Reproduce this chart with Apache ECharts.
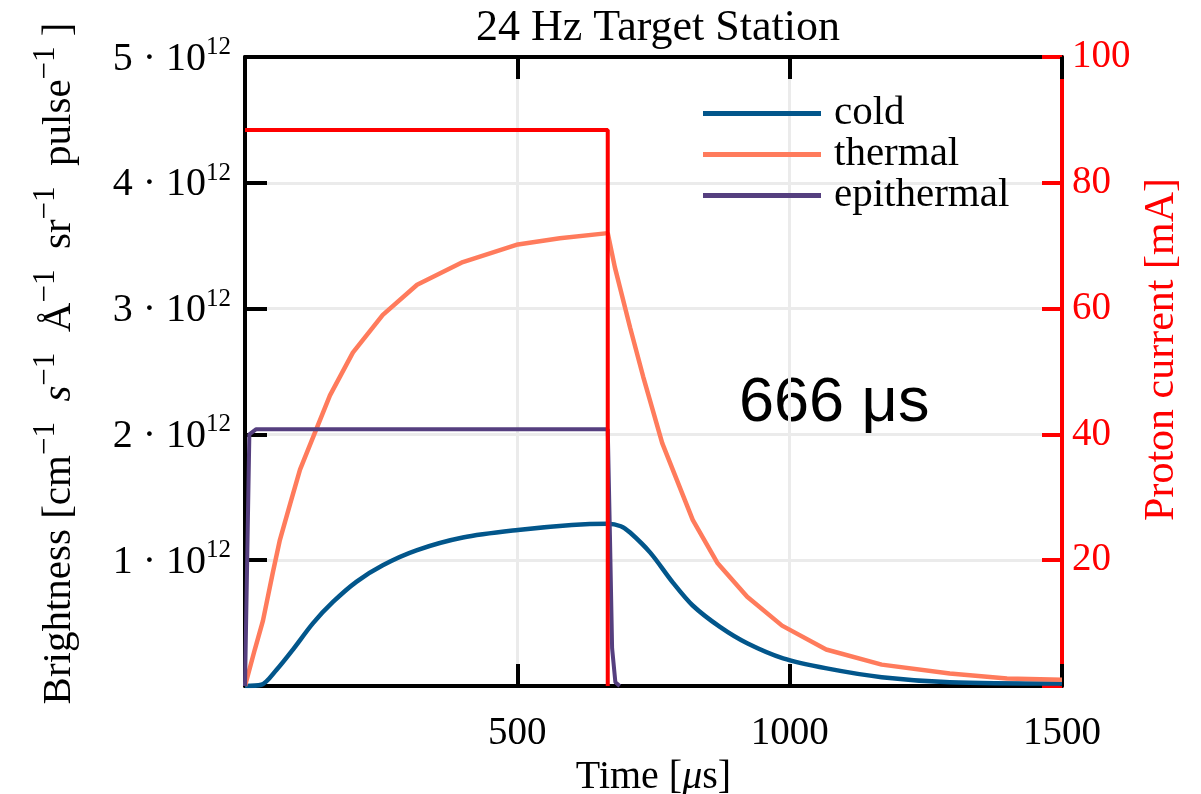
<!DOCTYPE html>
<html>
<head>
<meta charset="utf-8">
<script src="https://cdn.jsdelivr.net/npm/echarts@6/dist/echarts.min.js"></script>
<style>
  html, body { margin: 0; padding: 0; background: #fff; }
  #main { width: 1201px; height: 794px; }
</style>
</head>
<body>
<div id="main"></div>
<script>
// time in microseconds, brightness in units of 1e12
var coldTime  = [0, 30, 58, 88, 125, 162, 205, 253, 316, 400, 501, 600, 666, 690, 707, 744, 786, 822, 872, 922, 988, 1068, 1169, 1294, 1500]
var coldValue = [0, 0.01, 0.13, 0.29, 0.50, 0.67, 0.83, 0.96, 1.08, 1.18, 1.24, 1.28, 1.29, 1.27, 1.22, 1.06, 0.82, 0.64, 0.47, 0.34, 0.22, 0.14, 0.07, 0.03, 0.02]

var thermalTime  = [0, 18, 33, 51, 64, 83, 101, 128, 156, 198, 253, 316, 400, 501, 578, 666, 679, 707, 731, 766, 822, 867, 922, 986, 1067, 1169, 1294, 1399, 1500]
var thermalValue = [0, 0.29, 0.52, 0.90, 1.16, 1.45, 1.72, 2.01, 2.31, 2.65, 2.95, 3.19, 3.37, 3.51, 3.56, 3.60, 3.33, 2.85, 2.46, 1.93, 1.32, 0.98, 0.71, 0.48, 0.29, 0.17, 0.10, 0.06, 0.05]

var epiTime  = [0, 8, 20, 666, 670, 674, 680, 688]
var epiValue = [0, 2.0, 2.04, 2.04, 1.2, 0.3, 0.03, 0]

// proton current in mA
var protonTime  = [0, 666, 666]
var protonValue = [88.4, 88.4, 0]

var serif = '"Liberation Serif", "DejaVu Serif", serif'
var fs = 39

function pairs(xs, ys) {
	var out = []
	for (var i = 0; i < xs.length; i++) {
		out.push([xs[i], ys[i]])
	}
	return out
}

var myChart = echarts.init(document.getElementById('main'))

var tickStyle = { show: true, inside: true, length: 22, lineStyle: { color: '#000', width: 4 } }

myChart.setOption({
	animation: false,
	backgroundColor: '#fff',
	title: {
		text: '24 Hz Target Station',
		left: 653,
		textAlign: 'center',
		top: 1,
		textStyle: { fontFamily: serif, fontSize: 44, fontWeight: 'normal', color: '#000' }
	},
	legend: {
		data: ['cold', 'thermal', 'epithermal'],
		orient: 'vertical',
		left: 703,
		top: 93,
		icon: 'rect',
		itemWidth: 118,
		itemHeight: 5,
		itemGap: 0,
		padding: 0,
		textStyle: { fontFamily: serif, fontSize: 41, color: '#000', lineHeight: 38, padding: [0, 0, 0, 8] }
	},
	grid: { left: 245, right: 139, top: 57, bottom: 108, containLabel: false, outerBoundsMode: 'none' },
	xAxis: [{
		type: 'value',
		min: 0, max: 1500, interval: 500,
		name: 'Time [{i|μ}s]',
		nameLocation: 'middle',
		nameGap: 52,
		nameTextStyle: {
			fontFamily: serif, fontSize: 40, color: '#000',
			rich: { i: { fontFamily: serif, fontSize: 40, fontStyle: 'italic', color: '#000' } }
		},
		axisLine: { show: true, onZero: false, lineStyle: { color: '#000', width: 4 } },
		axisTick: tickStyle,
		axisLabel: {
			fontFamily: serif, fontSize: fs, color: '#000', margin: 28,
			formatter: function (v) { return v === 0 ? '' : v }
		},
		splitLine: { show: true, lineStyle: { color: '#ebebeb', width: 3 } }
	}, {
		type: 'value',
		position: 'top',
		min: 0, max: 1500, interval: 500,
		axisLine: { show: true, onZero: false, lineStyle: { color: '#000', width: 4 } },
		axisTick: tickStyle,
		axisLabel: { show: false },
		splitLine: { show: false }
	}],
	yAxis: [{
		type: 'value',
		min: 0, max: 5, interval: 1,
		name: '{t|Brightness [cm}{s|−1}{t|  }{i|s}{s|−1}{t|  Å}{s|−1}{t|  sr}{s|−1}{t|  pulse}{s|−1}{t| ]}',
		nameLocation: 'middle',
		nameRotate: 90,
		nameGap: 165,
		nameTextStyle: {
			padding: [0, 0, 0, 16],
			rich: {
				t: { fontFamily: serif, fontSize: 41, color: '#000', verticalAlign: 'bottom', lineHeight: 50 },
				i: { fontFamily: serif, fontSize: 41, fontStyle: 'italic', color: '#000', verticalAlign: 'bottom', lineHeight: 50 },
				s: { fontFamily: serif, fontSize: 31, color: '#000', verticalAlign: 'top', lineHeight: 50 }
			}
		},
		axisLine: { show: true, onZero: false, lineStyle: { color: '#000', width: 4 } },
		axisTick: tickStyle,
		axisLabel: {
			margin: 14,
			formatter: function (v) { return v === 0 ? '' : '{m|' + v + ' · 10}{s|12}' },
			rich: {
				m: { fontFamily: serif, fontSize: 40, color: '#000', verticalAlign: 'bottom', lineHeight: 44 },
				s: { fontFamily: serif, fontSize: 25, color: '#000', verticalAlign: 'top', lineHeight: 44 }
			}
		},
		splitLine: { show: true, lineStyle: { color: '#ebebeb', width: 3 } }
	}, {
		type: 'value',
		position: 'right',
		min: 0, max: 100, interval: 20,
		name: 'Proton current [mA]',
		nameLocation: 'middle',
		nameRotate: 90,
		nameGap: 75,
		nameTextStyle: { fontFamily: serif, fontSize: 42, color: '#ff0000', padding: [0, 0, 0, 44] },
		axisLine: { show: true, onZero: false, lineStyle: { color: '#ff0000', width: 4 } },
		axisTick: { show: true, inside: true, length: 20, lineStyle: { color: '#ff0000', width: 4 } },
		axisLabel: {
			fontFamily: serif, fontSize: fs, color: '#ff0000', margin: 10,
			formatter: function (v) { return v === 0 ? '' : v }
		},
		splitLine: { show: false }
	}],
	graphic: [{
		type: 'text',
		left: 739,
		top: 372,
		style: { text: '666 μs', fontFamily: '"Liberation Sans", Arial, sans-serif', fontSize: 63, fill: '#000' }
	}],
	series: [{
		name: 'cold',
		type: 'line',
		smooth: 0.3,
		showSymbol: false,
		color: '#02568b',
		lineStyle: { width: 4.5 },
		data: pairs(coldTime, coldValue)
	}, {
		name: 'thermal',
		type: 'line',
		showSymbol: false,
		color: '#ff7b5c',
		lineStyle: { width: 4.5 },
		data: pairs(thermalTime, thermalValue)
	}, {
		name: 'epithermal',
		type: 'line',
		showSymbol: false,
		color: '#553f7f',
		lineStyle: { width: 4 },
		data: pairs(epiTime, epiValue)
	}, {
		name: 'proton',
		type: 'line',
		yAxisIndex: 1,
		showSymbol: false,
		color: '#ff0000',
		lineStyle: { width: 4 },
		data: pairs(protonTime, protonValue)
	}]
})
</script>
</body>
</html>
